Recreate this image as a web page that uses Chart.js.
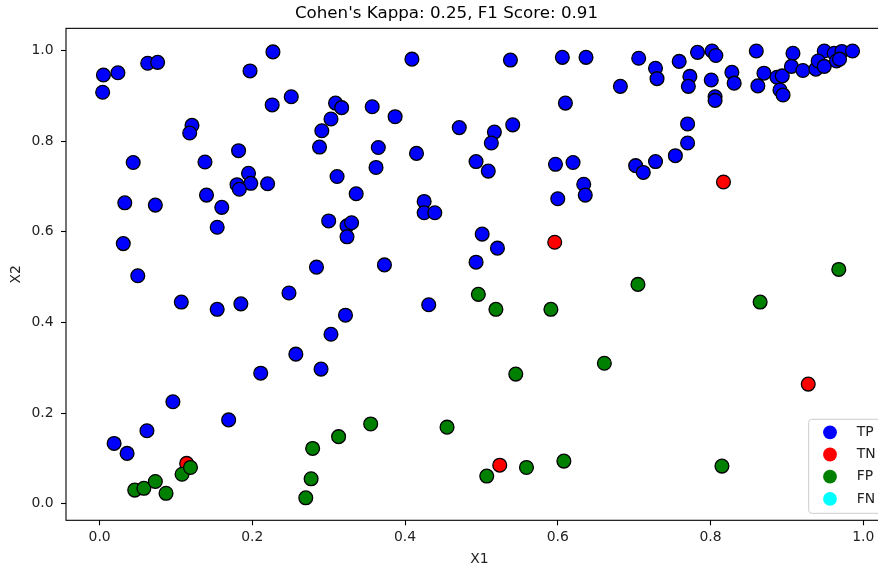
<!DOCTYPE html>
<html>
<head>
<meta charset="utf-8">
<script src="https://cdn.jsdelivr.net/npm/chart.js@4/dist/chart.umd.min.js"></script>
<style>
  html, body { margin: 0; padding: 0; background: #fff; overflow: hidden; }
  #wrap { width: 958px; height: 570px; position: relative; }
</style>
</head>
<body>
<div id="wrap"><canvas id="c" width="958" height="570"></canvas></div>
<script>
// ---- data ----
const chartTitle = "Cohen's Kappa: 0.25, F1 Score: 0.91";
const xLabel = "X1";
const yLabel = "X2";
const xTicks = [0.0, 0.2, 0.4, 0.6, 0.8, 1.0];
const yTicks = [0.0, 0.2, 0.4, 0.6, 0.8, 1.0];
const categories = ["TP", "TN", "FP", "FN"];
const colors = ["#0000ff", "#ff0000", "#008000", "#00ffff"];

const tpX = [0.005,0.024,0.004,0.063,0.076,0.227,0.197,0.226,0.251,0.121,0.118,0.044,0.138,0.182,0.195,0.180,0.198,0.183,0.220,0.140,
  0.033,0.073,0.160,0.154,0.031,0.050,0.107,0.154,0.185,0.248,0.257,0.211,0.096,0.169,0.062,0.019,0.036,
  0.409,0.538,0.606,0.637,0.309,0.317,0.303,0.291,0.288,0.357,0.387,0.365,0.362,0.415,0.311,0.336,0.425,0.425,0.439,
  0.471,0.517,0.513,0.541,0.493,0.509,0.610,0.597,0.620,0.634,0.636,0.600,0.300,0.324,0.330,0.324,0.284,0.373,0.431,
  0.322,0.303,0.290,0.501,0.521,0.493,
  0.706,0.682,0.728,0.730,0.759,0.783,0.802,0.807,0.773,0.771,0.801,0.806,0.806,0.828,0.831,0.860,0.862,0.870,0.887,
  0.894,0.891,0.895,0.908,0.906,0.921,0.938,0.949,0.941,0.949,0.962,0.965,0.972,0.969,0.986,0.770,0.770,0.754,0.728,
  0.702,0.712];
const tpY = [0.946,0.951,0.908,0.972,0.974,0.997,0.955,0.880,0.898,0.835,0.818,0.753,0.754,0.779,0.729,0.704,0.707,0.694,0.706,0.681,
  0.664,0.659,0.654,0.610,0.574,0.503,0.445,0.429,0.441,0.465,0.330,0.288,0.225,0.185,0.161,0.133,0.111,
  0.981,0.979,0.985,0.985,0.884,0.874,0.849,0.823,0.787,0.876,0.854,0.786,0.742,0.773,0.722,0.684,0.667,0.642,0.642,
  0.830,0.820,0.796,0.836,0.755,0.734,0.884,0.749,0.753,0.705,0.681,0.673,0.624,0.613,0.620,0.589,0.522,0.527,0.439,
  0.416,0.374,0.297,0.595,0.564,0.533,
  0.983,0.921,0.961,0.938,0.976,0.996,0.999,0.989,0.943,0.921,0.935,0.898,0.890,0.952,0.928,0.999,0.922,0.950,0.941,
  0.944,0.913,0.902,0.994,0.965,0.956,0.959,0.999,0.977,0.965,0.994,0.977,0.998,0.981,0.999,0.838,0.796,0.768,0.755,
  0.746,0.731];
const tnX = [0.596,0.817,0.928,0.524,0.114];
const tnY = [0.577,0.710,0.264,0.085,0.089];
const fpX = [0.968,0.705,0.865,0.661,0.815,0.270,0.277,0.279,0.313,0.355,0.455,0.507,0.559,0.608,0.046,0.058,0.073,0.087,0.108,0.119,0.496,0.519,0.591,0.545];
const fpY = [0.517,0.484,0.445,0.310,0.083,0.013,0.055,0.122,0.148,0.176,0.169,0.061,0.080,0.094,0.030,0.034,0.049,0.023,0.065,0.080,0.462,0.429,0.429,0.286];
const fnX = [];
const fnY = [];

// ---- build ----
const seriesX = [tpX, tnX, fpX, fnX];
const seriesY = [tpY, tnY, fpY, fnY];
const FONT = "DejaVu Sans";
const TXT = "#222";

const datasets = categories.map((name, i) => ({
  label: name,
  data: seriesX[i].map((x, k) => ({ x: x, y: seriesY[i][k] })),
  backgroundColor: colors[i],
  borderColor: "#000",
  borderWidth: 1.3,
  pointRadius: 6.9,
  pointHoverRadius: 6.9,
  order: categories.length - i
}));

const framePlugin = {
  id: "frame",
  afterDatasetsDraw(chart) {
    const a = chart.chartArea, ctx = chart.ctx;
    ctx.save();
    ctx.strokeStyle = "#000";
    ctx.lineWidth = 1.1;
    ctx.strokeRect(a.left, a.top, a.right - a.left, a.bottom - a.top);
    ctx.restore();
  }
};

const legendPlugin = {
  id: "mplLegend",
  afterDatasetsDraw(chart) {
    const a = chart.chartArea, ctx = chart.ctx;
    const w = 77.3, h = 94;
    const right = a.right - 7, bottom = a.bottom - 7;
    const left = right - w, top = bottom - h;
    ctx.save();
    ctx.beginPath();
    if (ctx.roundRect) ctx.roundRect(left, top, w, h, 3); else ctx.rect(left, top, w, h);
    ctx.fillStyle = "rgba(255,255,255,0.8)";
    ctx.fill();
    ctx.strokeStyle = "#cccccc";
    ctx.lineWidth = 1;
    ctx.stroke();
    ctx.font = "13.9px '" + FONT + "'";
    ctx.textBaseline = "middle";
    ctx.textAlign = "left";
    chart.data.datasets.forEach((ds, i) => {
      const cy = top + 13 + i * 22.2;
      ctx.beginPath();
      ctx.arc(left + 21.3, cy, 6.9, 0, Math.PI * 2);
      ctx.fillStyle = ds.backgroundColor;
      ctx.fill();
      ctx.fillStyle = TXT;
      ctx.fillText(ds.label, left + 48, cy);
    });
    ctx.restore();
  }
};

new Chart(document.getElementById("c"), {
  type: "scatter",
  data: { datasets: datasets },
  plugins: [framePlugin, legendPlugin],
  options: {
    responsive: false,
    animation: false,
    events: [],
    layout: { padding: { left: 0, right: 65, top: 0, bottom: 0 } },
    plugins: {
      legend: { display: false },
      tooltip: { enabled: false },
      title: {
        display: true,
        text: chartTitle,
        color: "#000",
        font: { family: FONT, size: 16.7, weight: "normal", lineHeight: 1.2 },
        padding: { top: 3.3, bottom: 5 }
      }
    },
    scales: {
      x: {
        type: "linear",
        position: "bottom",
        min: -0.044,
        max: 1.039,
        afterBuildTicks: s => { s.ticks = xTicks.map(v => ({ value: v })); },
        afterFit: s => { s.height = 49.7; },
        ticks: {
          color: TXT,
          padding: 4,
          font: { family: FONT, size: 13.9, lineHeight: 1.2 },
          callback: v => Number(v).toFixed(1)
        },
        grid: { display: true, drawOnChartArea: false, drawTicks: true, tickLength: 5, color: "#000", tickWidth: 1.1 },
        border: { display: false },
        title: {
          display: true, text: xLabel, color: TXT,
          font: { family: FONT, size: 13.9, lineHeight: 1.2 },
          padding: { top: 0, bottom: 2.7 }
        }
      },
      y: {
        type: "linear",
        min: -0.0366,
        max: 1.049,
        afterBuildTicks: s => { s.ticks = yTicks.map(v => ({ value: v })); },
        afterFit: s => { s.width = 66; },
        ticks: {
          color: TXT,
          padding: 7.5,
          font: { family: FONT, size: 13.9, lineHeight: 1.2 },
          callback: v => Number(v).toFixed(1)
        },
        grid: { display: true, drawOnChartArea: false, drawTicks: true, tickLength: 5, color: "#000", tickWidth: 1.1 },
        border: { display: false },
        title: {
          display: true, text: yLabel, color: TXT,
          font: { family: FONT, size: 13.9, lineHeight: 1.2 },
          padding: { top: 8, bottom: 0 }
        }
      }
    }
  }
});
</script>
</body>
</html>
